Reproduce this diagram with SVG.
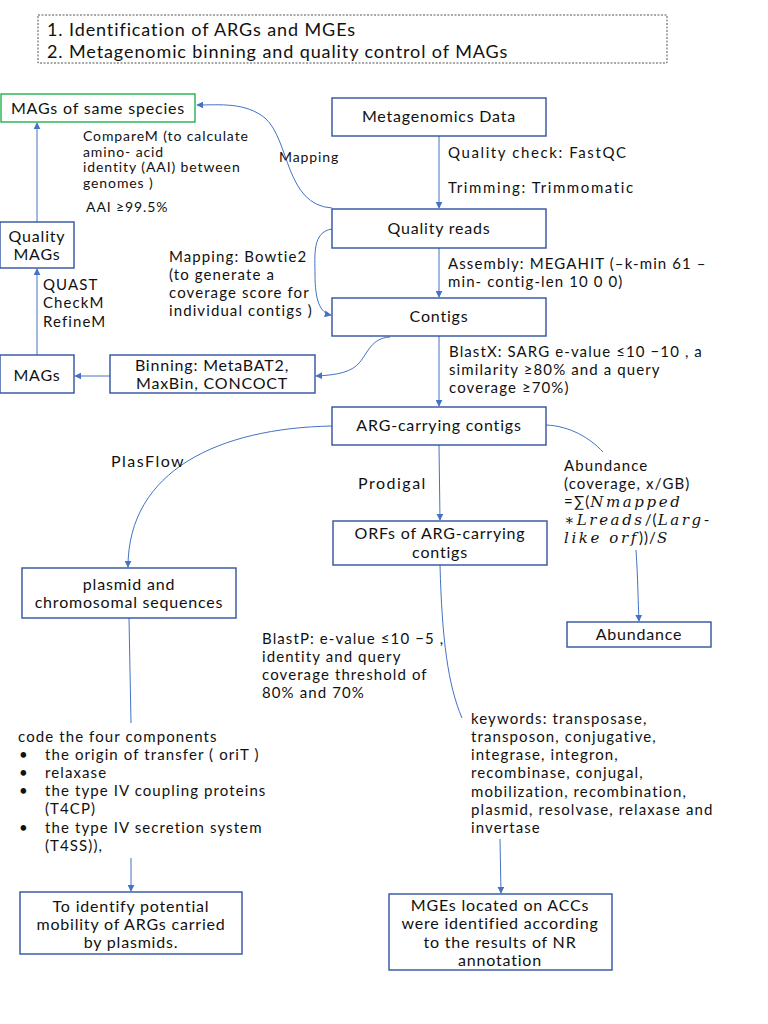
<svg xmlns="http://www.w3.org/2000/svg" width="768" height="1024" viewBox="0 0 768 1024">
<style>
text{font-family:Lato,"Liberation Sans",sans-serif;fill:#111;}
.b{fill:#fff;stroke:#2F52A0;stroke-width:1.4;}
.t{font-size:16px;letter-spacing:0.8px;text-anchor:middle;}
.l{font-size:15px;letter-spacing:1.1px;}
.s{font-size:14px;letter-spacing:0.9px;}
.c{fill:none;stroke:#4472C4;stroke-width:1;}
.m{font-family:"DejaVu Serif","Liberation Serif",serif;font-style:italic;letter-spacing:2.6px;}
</style>
<defs>
<marker id="ah" viewBox="0 0 10 10" refX="9" refY="5" markerWidth="7" markerHeight="7" markerUnits="userSpaceOnUse" orient="auto">
<path d="M0,0 L10,5 L0,10 z" fill="#4472C4"/>
</marker>
</defs>
<rect width="768" height="1024" fill="#fff"/>

<g id="title">
<rect x="38" y="15" width="629" height="48" fill="#fff" stroke="#555" stroke-width="1" stroke-dasharray="2,1.5"/>
<text x="47" y="36" style="font-size:18px;letter-spacing:0.9px">1. Identification of ARGs and MGEs</text>
<text x="47" y="58" style="font-size:18px;letter-spacing:0.9px">2. Metagenomic binning and quality control of MAGs</text>
</g>

<g id="connectors">
<path class="c" d="M439,136 L439,208" marker-end="url(#ah)"/>
<path class="c" d="M439,248 L439,297" marker-end="url(#ah)"/>
<path class="c" d="M439,336 L439,406" marker-end="url(#ah)"/>
<path class="c" d="M332,208 C285,205 290,140 265,118 C245,102 220,105 197,105" marker-end="url(#ah)"/>
<path class="c" d="M332,229 C312,232 315,255 315,275 C315,300 320,313 331,315" marker-end="url(#ah)"/>
<path class="c" d="M390,337 C372,338 368,352 360,362 C352,372 338,375 316,376" marker-end="url(#ah)"/>
<path class="c" d="M110,376 L75,376" marker-end="url(#ah)"/>
<path class="c" d="M37,355 L37,269" marker-end="url(#ah)"/>
<path class="c" d="M37,222 L37,123" marker-end="url(#ah)"/>
<path class="c" d="M332,426 C220,428 128,470 128,567" marker-end="url(#ah)"/>
<path class="c" d="M439,445 L440,520" marker-end="url(#ah)"/>
<path class="c" d="M546,425 C570,426 590,438 603,452"/>
<path class="c" d="M636,550 C638,580 638,600 639,621" marker-end="url(#ah)"/>
<path class="c" d="M440,565 C442,640 448,685 462,718"/>
<path class="c" d="M129,618 L131,723"/>
<path class="c" d="M131,858 L131,891" marker-end="url(#ah)"/>
<path class="c" d="M500,839 L501,893" marker-end="url(#ah)"/>
</g>

<g id="mags-species">
<rect x="1" y="94" width="194" height="28" fill="#fff" stroke="#22B14C" stroke-width="1.4"/>
<text class="t" x="98" y="114">MAGs of same species</text>
</g>
<g id="metagenomics-data">
<rect class="b" x="332" y="98" width="214" height="38"/>
<text class="t" x="439" y="122">Metagenomics Data</text>
</g>
<g id="quality-reads">
<rect class="b" x="332" y="209" width="214" height="39"/>
<text class="t" x="439" y="234">Quality reads</text>
</g>
<g id="contigs">
<rect class="b" x="332" y="298" width="214" height="38"/>
<text class="t" x="439" y="322">Contigs</text>
</g>
<g id="arg-contigs">
<rect class="b" x="332" y="407" width="214" height="38"/>
<text class="t" x="439" y="431">ARG-carrying contigs</text>
</g>
<g id="quality-mags">
<rect class="b" x="0" y="222" width="74" height="46"/>
<text class="t" x="37" y="242">Quality</text>
<text class="t" x="37" y="260">MAGs</text>
</g>
<g id="mags">
<rect class="b" x="0" y="355" width="74" height="38"/>
<text class="t" x="37" y="381">MAGs</text>
</g>
<g id="binning">
<rect class="b" x="110" y="355" width="205" height="38"/>
<text class="t" x="212" y="371">Binning: MetaBAT2,</text>
<text class="t" x="212" y="389">MaxBin, CONCOCT</text>
</g>
<g id="orfs">
<rect class="b" x="333" y="521" width="214" height="44"/>
<text class="t" x="440" y="539">ORFs of ARG-carrying</text>
<text class="t" x="440" y="558">contigs</text>
</g>
<g id="abundance">
<rect class="b" x="567" y="622" width="144" height="25"/>
<text class="t" x="639" y="640">Abundance</text>
</g>
<g id="plasmid">
<rect class="b" x="22" y="568" width="214" height="50"/>
<text class="t" x="129" y="590">plasmid and</text>
<text class="t" x="129" y="608">chromosomal sequences</text>
</g>
<g id="identify">
<rect class="b" x="20" y="892" width="222" height="62"/>
<text class="t" x="131" y="912">To identify potential</text>
<text class="t" x="131" y="930">mobility of ARGs carried</text>
<text class="t" x="131" y="948">by plasmids.</text>
</g>
<g id="mges">
<rect class="b" x="389" y="894" width="223" height="76"/>
<text class="t" x="500" y="911">MGEs located on ACCs</text>
<text class="t" x="500" y="929">were identified according</text>
<text class="t" x="500" y="948">to the results of NR</text>
<text class="t" x="500" y="966">annotation</text>
</g>

<g id="labels">
<text class="s" x="83" y="141">CompareM (to calculate</text>
<text class="s" x="83" y="157">amino- acid</text>
<text class="s" x="83" y="172">identity (AAI) between</text>
<text class="s" x="83" y="188">genomes )</text>
<text class="s" x="86" y="212">AAI ≥99.5%</text>
<text class="s" x="279" y="162">Mapping</text>
<text class="l" x="448" y="158" style="letter-spacing:1.6px">Quality check: FastQC</text>
<text class="l" x="448" y="193" style="letter-spacing:1.6px">Trimming: Trimmomatic</text>
<text class="l" x="169" y="262">Mapping: Bowtie2</text>
<text class="l" x="169" y="280">(to generate a</text>
<text class="l" x="169" y="298">coverage score for</text>
<text class="l" x="169" y="316">individual contigs )</text>
<text class="l" x="448" y="269">Assembly: MEGAHIT (–k-min 61 –</text>
<text class="l" x="448" y="287">min- contig-len 10 0 0)</text>
<text class="l" x="43" y="290">QUAST</text>
<text class="l" x="43" y="308">CheckM</text>
<text class="l" x="43" y="327">RefineM</text>
<text class="l" x="449" y="357">BlastX: SARG e-value ≤10 −10 , a</text>
<text class="l" x="449" y="375">similarity ≥80% and a query</text>
<text class="l" x="449" y="393">coverage ≥70%)</text>
<text class="l" x="111" y="467" style="font-size:16px;letter-spacing:1.5px">PlasFlow</text>
<text class="l" x="358" y="489" style="font-size:16px;letter-spacing:1.5px">Prodigal</text>
<text class="l" x="564" y="471">Abundance</text>
<text class="l" x="564" y="489">(coverage, x/GB)</text>
<text class="l" x="564" y="507">=∑(<tspan class="m">Nmapped</tspan></text>
<text class="l" x="564" y="525"><tspan class="m">∗Lreads</tspan>/(<tspan class="m">Larg</tspan>-</text>
<text class="l" x="564" y="543"><tspan class="m">like orf</tspan>))/<tspan class="m">S</tspan></text>
<text class="l" x="262" y="644">BlastP: e-value ≤10 −5 ,</text>
<text class="l" x="262" y="662">identity and query</text>
<text class="l" x="262" y="680">coverage threshold of</text>
<text class="l" x="262" y="698">80% and 70%</text>
<text class="l" x="471" y="724">keywords: transposase,</text>
<text class="l" x="471" y="742">transposon, conjugative,</text>
<text class="l" x="471" y="760">integrase, integron,</text>
<text class="l" x="471" y="778">recombinase, conjugal,</text>
<text class="l" x="471" y="797">mobilization, recombination,</text>
<text class="l" x="471" y="815">plasmid, resolvase, relaxase and</text>
<text class="l" x="471" y="833">invertase</text>
<text class="l" x="18" y="742">code the four components</text>
<text class="l" x="19" y="760">•</text>
<text class="l" x="45" y="760">the origin of transfer ( oriT )</text>
<text class="l" x="19" y="778">•</text>
<text class="l" x="45" y="778">relaxase</text>
<text class="l" x="19" y="796">•</text>
<text class="l" x="45" y="796">the type IV coupling proteins</text>
<text class="l" x="45" y="814">(T4CP)</text>
<text class="l" x="19" y="833">•</text>
<text class="l" x="45" y="833">the type IV secretion system</text>
<text class="l" x="45" y="851">(T4SS)),</text>
</g>
</svg>
